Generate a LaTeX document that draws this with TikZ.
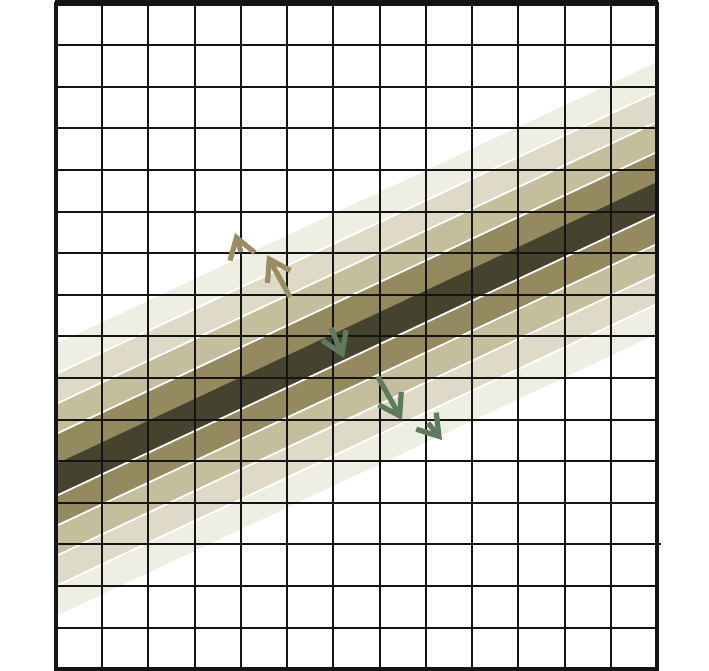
\documentclass[tikz,border=0pt]{standalone}
\usepackage{tikz}
\usetikzlibrary{arrows.meta}
\definecolor{bandA}{HTML}{EFEEE3}
\definecolor{bandB}{HTML}{DEDAC7}
\definecolor{bandC}{HTML}{C4BE9C}
\definecolor{bandD}{HTML}{958A5F}
\definecolor{bandE}{HTML}{45432E}
\definecolor{tanarrow}{HTML}{9A8D63}
\definecolor{greenarrow}{HTML}{5F7B5F}

\begin{document}
\begin{tikzpicture}[x=0.5pt,y=-0.5pt,
      gridline/.style={line width=1pt,black!92},
      sep/.style={white,line width=0.9pt},
      arr/.style={line width=2.6pt,-{Straight Barb[length=10pt,width=13pt]}}]
    \useasboundingbox (0,0) rectangle (709,671);
    % beam bands, widest first
    \begin{scope}
      \clip (56,3.5) rectangle (657,669);
      \foreach \off/\col in {136/bandA,106/bandB,76/bandC,46/bandD,16/bandE}
        \fill[\col] (56,480-\off) -- (657,198-\off) -- (657,198+\off) -- (56,480+\off) -- cycle;
      \foreach \off in {-106,-76,-46,16,46,76,106}
        \draw[sep] (56,480+\off) -- (657,198+\off);
    \end{scope}
    % grid
    \foreach \i in {1,...,12}
      \draw[gridline] ({56+\i*46.23},3.5) -- ({56+\i*46.23},669);
    \foreach \j in {1,...,15}
      \draw[gridline] (56,{3.5+\j*41.6}) -- (657,{3.5+\j*41.6});
    \draw[gridline] (657,544.3) -- (661,544.3);
    \draw[line width=2pt,black!92] (56,3.5) rectangle (657,669);
    \draw[line width=2.8pt,black!92] (55,2.8) -- (658,2.8);
    % arrows
    \coordinate (up1s) at (241,252);
    \coordinate (up1e) at (235,233);
    \coordinate (up2s) at (290,297);
    \coordinate (up2e) at (267,255);
    \coordinate (dn1s) at (331,328);
    \coordinate (dn1e) at (344,358);
    \coordinate (dn2s) at (378,377);
    \coordinate (dn2e) at (402,420);
    \coordinate (dn3s) at (428,423);
    \coordinate (dn3e) at (442,440);
    \draw[arr,tanarrow] (up1s) -- (up1e);
    \draw[arr,tanarrow] (up2s) -- (up2e);
    \draw[arr,greenarrow] (dn1s) -- (dn1e);
    \draw[arr,greenarrow] (dn2s) -- (dn2e);
    \draw[arr,greenarrow] (dn3s) -- (dn3e);
  \end{tikzpicture}
\end{document}
